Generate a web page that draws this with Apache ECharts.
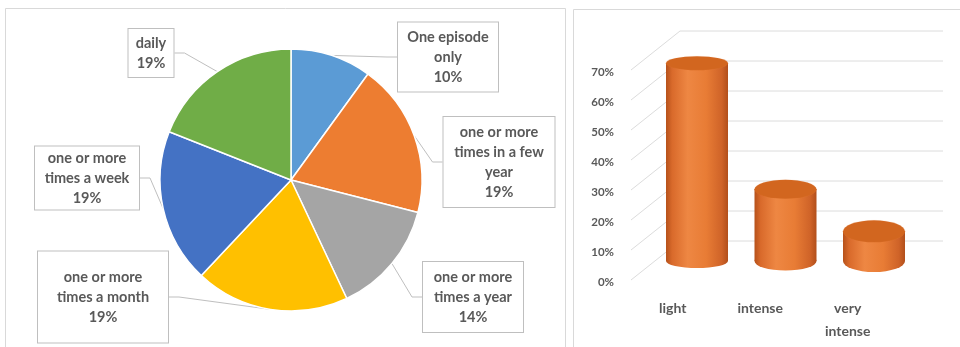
<!DOCTYPE html>
<html>
<head>
<meta charset="utf-8">
<script src="https://cdn.jsdelivr.net/npm/echarts@6/dist/echarts.min.js"></script>
<style>html,body{margin:0;padding:0;background:#fff}#c{width:960px;height:347px}</style>
</head>
<body>
<div id="c"></div>
<script>
// ---- data ----
const pieCategories = ['One episode\nonly', 'one or more\ntimes in a few\nyear', 'one or more\ntimes a year', 'one or more\ntimes a month', 'one or more\ntimes a week', 'daily'];
const pieValues = [10, 19, 14, 19, 19, 19];
const barCategories = ['light', 'intense', 'very\nintense'];
const barValues = [66, 24, 10];
const yTicks = [0, 10, 20, 30, 40, 50, 60, 70];

// ---- styles / layout ----
const pieColors = ['#5B9BD5', '#ED7D31', '#A5A5A5', '#FFC000', '#4472C4', '#70AD47'];
const labelBoxes = [
  { cx: 448, cy: 57, w: 100, h: 69 },
  { cx: 499, cy: 162, w: 111, h: 90 },
  { cx: 473, cy: 297, w: 100, h: 70 },
  { cx: 103, cy: 297, w: 130, h: 91 },
  { cx: 87, cy: 178, w: 104, h: 63 },
  { cx: 151, cy: 53, w: 45, h: 48 }
];
const topEllipseH = [14, 19, 22];
const LH = 20;
const FONT = 'Lato';
const TXT = '#595959';

const chart = echarts.init(document.getElementById('c'), null, { renderer: 'canvas' });

const pieData = pieCategories.map((name, i) => {
  const b = labelBoxes[i];
  const nLines = name.split('\n').length + 1;
  const pv = Math.max(0, (b.h - nLines * LH) / 2);
  return {
    name: name,
    value: pieValues[i],
    itemStyle: { color: pieColors[i] },
    label: { width: b.w, padding: [pv, 0, pv, 0] }
  };
});

const bodyGradient = new echarts.graphic.LinearGradient(0, 0, 1, 0, [
  { offset: 0, color: '#b6511a' },
  { offset: 0.1, color: '#d96a2b' },
  { offset: 0.35, color: '#ee8743' },
  { offset: 0.65, color: '#e87c35' },
  { offset: 0.9, color: '#cf6328' },
  { offset: 1, color: '#b24f1b' }
]);

const option = {
  animation: false,
  backgroundColor: '#ffffff',
  graphic: [
    { type: 'rect', shape: { x: 5.5, y: 8.5, width: 560, height: 345 }, style: { fill: null, stroke: '#d9d9d9', lineWidth: 1 }, silent: true },
    { type: 'polyline', shape: { points: [[573.5, 347], [573.5, 9.5], [960, 9.5]] }, style: { fill: null, stroke: '#d9d9d9', lineWidth: 1 }, silent: true }
  ],
  grid: [
    { left: 629, right: 68.5, top: 72, bottom: 65 },   // front plane (labels, wall lines)
    { left: 652.75, right: 41.75, top: 51, bottom: 86 } // mid plane (cylinders)
  ],
  xAxis: [
    {
      gridIndex: 0, type: 'category', data: barCategories,
      axisLine: { show: false }, axisTick: { show: false }, splitLine: { show: false },
      axisLabel: { margin: 15, color: TXT, fontFamily: FONT, fontWeight: 'bold', fontSize: 14, lineHeight: 23 }
    },
    {
      gridIndex: 1, type: 'category', data: barCategories, show: false
    }
  ],
  yAxis: [
    {
      gridIndex: 0, type: 'value', min: 0, max: 70, interval: 10,
      axisLine: { show: false }, axisTick: { show: false }, splitLine: { show: false },
      axisLabel: { margin: 15, formatter: '{value}%', color: TXT, fontFamily: FONT, fontWeight: 'bold', fontSize: 11.5 }
    },
    {
      gridIndex: 1, type: 'value', min: 0, max: 70, interval: 10, show: false, splitLine: { show: false }
    }
  ],
  series: [
    {
      type: 'pie',
      center: [291, 180],
      radius: 131,
      startAngle: 90,
      clockwise: true,
      avoidLabelOverlap: false,
      data: pieData,
      itemStyle: { borderColor: '#ffffff', borderWidth: 1.5 },
      label: {
        show: true,
        position: 'outside',
        formatter: '{b}\n{c}%',
        color: TXT,
        fontFamily: FONT,
        fontWeight: 'bold',
        fontSize: 14.5,
        lineHeight: LH,
        align: 'center',
        backgroundColor: '#ffffff',
        borderColor: '#bfbfbf',
        borderWidth: 1
      },
      labelLine: { show: true, length: 10, length2: 10, lineStyle: { color: '#bfbfbf', width: 1 } },
      labelLayout: function (params) {
        const b = labelBoxes[params.dataIndex];
        return { x: b.cx, y: b.cy, align: 'center', verticalAlign: 'middle' };
      }
    },
    {
      type: 'custom',
      xAxisIndex: 0, yAxisIndex: 0,
      z: 0,
      silent: true,
      clip: false,
      data: yTicks.map(v => [0, v]),
      renderItem: function (params, api) {
        const y = api.coord([0, api.value(1)])[1];
        const cs = params.coordSys;
        return {
          type: 'polyline',
          shape: { points: [[cs.x + 2, y - 2], [cs.x + 51, y - 41], [cs.x + cs.width + 51.5, y - 41]] },
          style: { fill: null, stroke: '#dcdcdc', lineWidth: 1 }
        };
      }
    },
    {
      type: 'pictorialBar',
      xAxisIndex: 1, yAxisIndex: 1,
      z: 2,
      symbol: 'circle',
      symbolPosition: 'start',
      data: barValues.map((v, i) => ({ value: v, symbolSize: [62, topEllipseH[i]], symbolOffset: [0, '50%'] })),
      itemStyle: { color: bodyGradient },
      silent: true
    },
    {
      type: 'bar',
      xAxisIndex: 1, yAxisIndex: 1,
      z: 3,
      barWidth: 62,
      data: barValues,
      itemStyle: { color: bodyGradient },
      silent: true
    },
    {
      type: 'pictorialBar',
      xAxisIndex: 1, yAxisIndex: 1,
      z: 4,
      symbol: 'circle',
      symbolPosition: 'end',
      data: barValues.map((v, i) => ({ value: v, symbolSize: [62, topEllipseH[i]], symbolOffset: [0, '-50%'] })),
      itemStyle: { color: '#d2661f', borderColor: '#ec8a48', borderWidth: 1.2 },
      silent: true
    }
  ]
};
chart.setOption(option);
</script>
</body>
</html>
